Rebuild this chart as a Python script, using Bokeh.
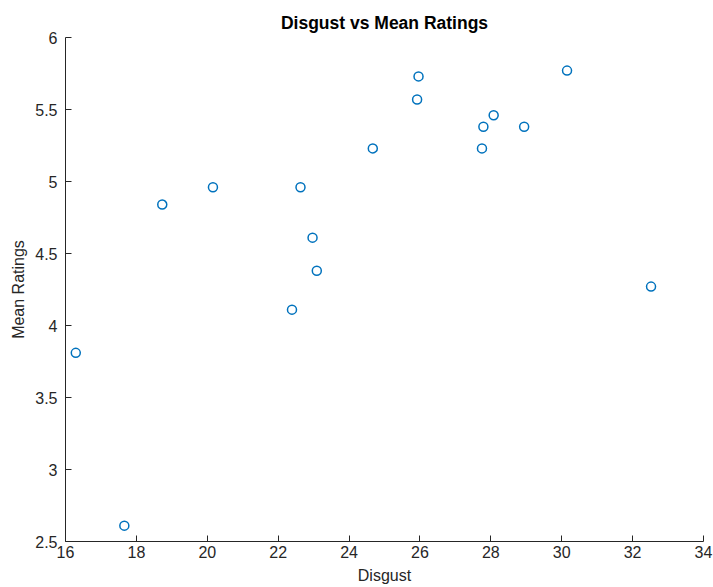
from bokeh.plotting import figure
from bokeh.models import Range1d, FixedTicker, ColumnDataSource
from bokeh.embed import file_html
from bokeh.resources import INLINE

# Data
disgust = [16.29, 17.66, 18.73, 20.16, 22.39, 22.63, 22.97, 23.09, 24.67,
           25.92, 25.96, 27.75, 27.79, 28.08, 28.94, 30.15, 32.52]
mean_ratings = [3.81, 2.61, 4.84, 4.96, 4.11, 4.96, 4.61, 4.38, 5.23,
                5.57, 5.73, 5.23, 5.38, 5.46, 5.38, 5.77, 4.27]

x_ticks = [16, 18, 20, 22, 24, 26, 28, 30, 32, 34]
y_ticks = [2.5, 3, 3.5, 4, 4.5, 5, 5.5, 6]
y_tick_labels = ["2.5", "3", "3.5", "4", "4.5", "5", "5.5", "6"]

TEXT = "#262626"
FONT = "Liberation Sans"

p = figure(width=713, height=587, output_backend="svg", toolbar_location=None,
           x_range=Range1d(16, 34), y_range=Range1d(2.5, 6),
           title="Disgust vs Mean Ratings",
           min_border_left=65, min_border_right=10, min_border_top=37,
           min_border_bottom=46)

p.title.align = "center"
p.title.text_font = FONT
p.title.text_font_size = "17.5px"
p.title.text_font_style = "bold"
p.title.text_color = "#000000"
p.title.standoff = 9

p.outline_line_color = None
p.xgrid.visible = False
p.ygrid.visible = False
p.background_fill_color = "white"
p.border_fill_color = "white"

src = ColumnDataSource(dict(x=disgust, y=mean_ratings))
p.scatter("x", "y", source=src, marker="circle", size=9,
          fill_color=None, line_color="#0072BD", line_width=1.5)

p.xaxis.ticker = FixedTicker(ticks=x_ticks)
p.yaxis.ticker = FixedTicker(ticks=y_ticks)
p.yaxis.major_label_overrides = {
    (int(v) if float(v).is_integer() else v): s for v, s in zip(y_ticks, y_tick_labels)
}
p.xaxis.axis_label = "Disgust"
p.yaxis.axis_label = "Mean Ratings"

for ax in (p.xaxis[0], p.yaxis[0]):
    ax.axis_line_color = TEXT
    ax.axis_line_width = 1
    ax.major_tick_line_color = TEXT
    ax.major_tick_in = 6
    ax.major_tick_out = 0
    ax.minor_tick_line_color = None
    ax.major_label_text_font = FONT
    ax.major_label_text_font_size = "16px"
    ax.major_label_text_color = TEXT
    ax.axis_label_text_font = FONT
    ax.axis_label_text_font_size = "16px"
    ax.axis_label_text_font_style = "normal"
    ax.axis_label_text_color = TEXT

p.xaxis.major_label_standoff = 4
p.xaxis.axis_label_standoff = 6
p.yaxis.major_label_standoff = 8
p.yaxis.axis_label_standoff = 5

open("out.html", "w").write(file_html(p, INLINE))
